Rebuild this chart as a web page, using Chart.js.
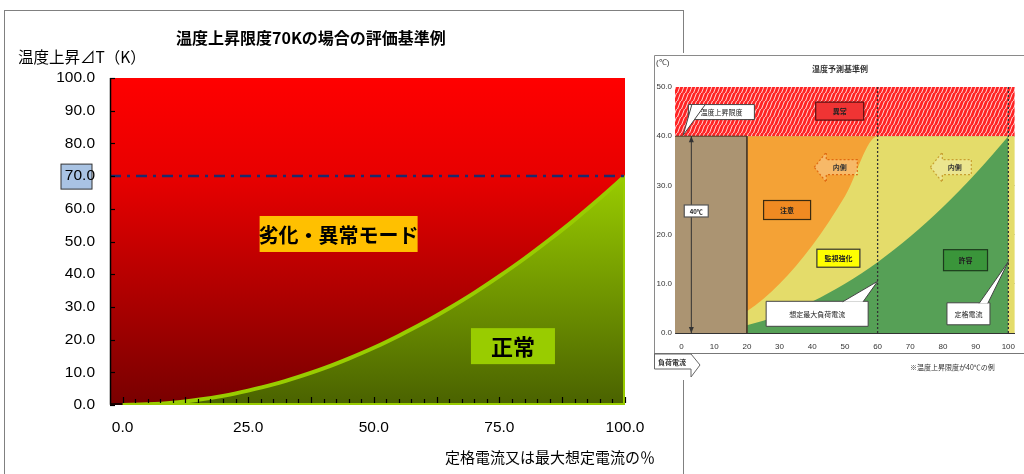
<!DOCTYPE html>
<html>
<head>
<meta charset="utf-8">
<script src="https://cdn.jsdelivr.net/npm/chart.js@4.4.0/dist/chart.umd.min.js"></script>
<style>
  body { margin: 0; background: #fff; width: 1024px; height: 474px; overflow: hidden; position: relative;
         font-family: "Noto Sans CJK JP", sans-serif; }
  #frame { position: absolute; left: 4px; top: 10px; width: 678px; height: 500px; border: 1.5px solid #808080; }
  #main { position: absolute; left: 0; top: 0; width: 684px; height: 474px; }
  #inset { position: absolute; left: 653px; top: 53px; width: 371px; height: 327px; background: #fff; }
  .t { position: absolute; white-space: nowrap; color: #000; line-height: 1; }
</style>
</head>
<body>
<div id="frame"></div>
<div id="main"><canvas id="c1"></canvas></div>
<div class="t" style="left:176px;top:29px;font-size:16px;font-weight:bold;">温度上昇限度70Kの場合の評価基準例</div>
<div class="t" style="left:18px;top:49px;font-size:15.5px;">温度上昇⊿T（K）</div>
<div class="t" style="right:369px;top:449px;font-size:15px;">定格電流又は最大想定電流の％</div>
<div id="inset"><canvas id="c2"></canvas></div>

<script>
// ---- main chart data ----
const currentPct = [0, 5, 10, 15, 20, 25, 30, 35, 40, 45, 50, 55, 60, 65, 70, 75, 80, 85, 90, 95, 100];
const tempRise   = [0, 0.2, 0.7, 1.6, 2.8, 4.4, 6.3, 8.6, 11.2, 14.2, 17.5, 21.2, 25.2, 29.6, 34.3, 39.4, 44.8, 50.6, 56.7, 63.2, 70];
const limitRise = 70;
const redTop = 100;
const xMin = -2.5;
const yTicks = [0, 10, 20, 30, 40, 50, 60, 70, 80, 90, 100];
const xTicks = [0, 25, 50, 75, 100];
const zoneNames = ['劣化・異常モード', '正常'];

// ---- pasted reference picture on the right ----
const insetPct    = [0, 10, 20, 30, 40, 50, 60, 70, 80, 90, 100];
const cautionLine = [0, 1.1, 4.4, 10.0, 17.8, 27.8, 40.0];
const allowLine   = [0, 0.4, 1.6, 3.6, 6.4, 10.0, 14.4, 19.6, 25.6, 32.4, 40.0];
const insetLimit = 40;
const insetTop = 50;
const insetRated = 100;
const insetMaxLoad = 60;
const insetBrownEnd = 20;
const insetYTicks = [0, 10, 20, 30, 40, 50];
const insetXTicks = [0, 10, 20, 30, 40, 50, 60, 70, 80, 90, 100];
const insetNotes = ['温度上昇限度', '異常', '内側', '内側', '40℃', '注意', '監視強化', '許容', '想定最大負荷電流', '定格電流'];

const numFont = '"Liberation Sans",sans-serif';
const jpFont = '"Noto Sans CJK JP",sans-serif';

const pts = (xs, ys) => ys.map((y, i) => ({ x: xs[i], y: y }));

function redFill(c) {
  const a = c.chart.chartArea;
  if (!a) return '#c00000';
  const g = c.chart.ctx.createLinearGradient(0, a.top, 0, a.bottom);
  g.addColorStop(0, '#ff0000');
  g.addColorStop(0.3, '#e80000');
  g.addColorStop(1, '#780000');
  return g;
}
function greenFill(c) {
  const a = c.chart.chartArea;
  if (!a) return '#7a9e00';
  const top = c.chart.scales.y.getPixelForValue(limitRise);
  const g = c.chart.ctx.createLinearGradient(0, top, 0, a.bottom);
  g.addColorStop(0, '#99cc00');
  g.addColorStop(1, '#4a6200');
  return g;
}

function drawTag(ctx, text, cx, cy, w, h, fill, font, stroke) {
  ctx.save();
  ctx.fillStyle = fill;
  ctx.fillRect(cx - w / 2, cy - h / 2, w, h);
  if (stroke) { ctx.strokeStyle = stroke; ctx.lineWidth = 1; ctx.strokeRect(cx - w / 2, cy - h / 2, w, h); }
  ctx.fillStyle = '#000';
  ctx.font = font;
  ctx.textAlign = 'center';
  ctx.textBaseline = 'middle';
  ctx.fillText(text, cx, cy + 1);
  ctx.restore();
}

const mainDecor = {
  id: 'mainDecor',
  beforeDraw(chart) {
    const { ctx, chartArea: a, scales: { y } } = chart;
    const py = y.getPixelForValue(limitRise);
    ctx.save();
    ctx.fillStyle = '#a9c3e3';
    ctx.strokeStyle = '#333';
    ctx.lineWidth = 1;
    ctx.fillRect(a.left - 49, py - 12, 31, 25);
    ctx.strokeRect(a.left - 49, py - 12, 31, 25);
    ctx.restore();
  },
  afterDatasetsDraw(chart) {
    const { ctx, chartArea: a, scales: { x, y } } = chart;
    ctx.save();
    ctx.strokeStyle = '#000';
    ctx.lineWidth = 1.5;
    ctx.beginPath();
    ctx.moveTo(a.left + 0.5, a.top);
    ctx.lineTo(a.left + 0.5, a.bottom - 1);
    ctx.lineTo(x.getPixelForValue(0), a.bottom - 1);
    ctx.stroke();
    ctx.lineWidth = 1.2;
    yTicks.forEach(v => {
      const py = Math.round(y.getPixelForValue(v)) + 0.5;
      ctx.beginPath(); ctx.moveTo(a.left, py); ctx.lineTo(a.left + 5, py); ctx.stroke();
    });
    for (let v = 0; v <= 100; v += 2.5) {
      const px = Math.round(x.getPixelForValue(v)) + 0.5;
      const len = (v % 12.5 === 0) ? 6 : 4;
      ctx.beginPath(); ctx.moveTo(px, a.bottom - 2); ctx.lineTo(px, a.bottom - 2 - len); ctx.stroke();
    }
    ctx.restore();
    drawTag(ctx, zoneNames[0], x.getPixelForValue(43), y.getPixelForValue(52.3), 158, 36, '#ffc000', 'bold 20px ' + jpFont);
    drawTag(ctx, zoneNames[1], x.getPixelForValue(77.7), y.getPixelForValue(18), 84, 36, '#99cc00', 'bold 22px ' + jpFont);
  }
};

new Chart(document.getElementById('c1'), {
  type: 'line',
  data: {
    datasets: [
      { label: '限度', data: [{ x: xMin, y: limitRise }, { x: 100, y: limitRise }], borderColor: '#1c2b6e',
        borderWidth: 2.5, borderDash: [11, 6, 3, 6], pointRadius: 0, fill: false },
      { label: '枠', data: [{ x: 0, y: 0 }, { x: 100, y: 0 }, { x: 100, y: limitRise }], borderColor: '#99cc00',
        borderWidth: 4, pointRadius: 0, fill: false },
      { label: '正常', data: pts(currentPct, tempRise), borderColor: '#99cc00', borderWidth: 4, pointRadius: 0,
        cubicInterpolationMode: 'monotone', fill: 'origin', backgroundColor: greenFill },
      { label: '異常', data: [{ x: xMin, y: redTop }, { x: 100, y: redTop }], borderWidth: 0, pointRadius: 0,
        fill: 'origin', backgroundColor: redFill }
    ]
  },
  options: {
    responsive: true, maintainAspectRatio: false, animation: false,
    layout: { padding: { left: 0, right: 59, top: 78, bottom: 0 } },
    plugins: { legend: { display: false }, tooltip: { enabled: false } },
    scales: {
      x: {
        type: 'linear', min: xMin, max: 100,
        afterBuildTicks: s => { s.ticks = xTicks.map(v => ({ value: v })); },
        afterFit: s => { s.height = 69; },
        grid: { display: false, drawTicks: false }, border: { display: false },
        ticks: { padding: 13, color: '#000', maxRotation: 0, autoSkip: false,
                 font: { family: numFont, size: 15.5 }, callback: v => v.toFixed(1) }
      },
      y: {
        min: 0, max: 100,
        afterBuildTicks: s => { s.ticks = yTicks.map(v => ({ value: v })); },
        afterFit: s => { s.width = 110; },
        grid: { display: false, drawTicks: false }, border: { display: false },
        ticks: { padding: 15, color: '#000', autoSkip: false,
                 font: { family: numFont, size: 15.5 }, callback: v => v.toFixed(1) }
      }
    }
  },
  plugins: [mainDecor]
});

// ---- inset ----
function hatchPattern() {
  const p = document.createElement('canvas');
  p.width = 4; p.height = 8;
  const g = p.getContext('2d');
  g.fillStyle = '#ff2424';
  g.fillRect(0, 0, 4, 8);
  g.strokeStyle = 'rgba(255,235,235,0.9)';
  g.lineWidth = 1;
  g.beginPath(); g.moveTo(0.5, 8); g.lineTo(3.5, 0); g.stroke();
  return g.createPattern(p, 'repeat');
}

function noteBox(ctx, text, cx, cy, w, h, fill, stroke, size, dash) {
  ctx.save();
  ctx.fillStyle = fill;
  ctx.fillRect(cx - w / 2, cy - h / 2, w, h);
  ctx.strokeStyle = stroke;
  ctx.lineWidth = 1.2;
  if (dash) ctx.setLineDash(dash);
  ctx.strokeRect(cx - w / 2, cy - h / 2, w, h);
  ctx.setLineDash([]);
  ctx.fillStyle = '#222';
  ctx.font = 'bold ' + size + 'px ' + jpFont;
  ctx.textAlign = 'center'; ctx.textBaseline = 'middle';
  ctx.fillText(text, cx, cy + 0.5);
  ctx.restore();
}
function leftArrow(ctx, text, cx, cy, w, h, stroke) {
  ctx.save();
  ctx.strokeStyle = stroke; ctx.lineWidth = 1.2; ctx.setLineDash([2, 2]);
  ctx.fillStyle = 'rgba(255,255,255,0.25)';
  const l = cx - w / 2, r = cx + w / 2, t = cy - h / 2, b = cy + h / 2, hw = 12;
  ctx.beginPath();
  ctx.moveTo(l, cy); ctx.lineTo(l + hw, t); ctx.lineTo(l + hw, cy - h / 4); ctx.lineTo(r, cy - h / 4);
  ctx.lineTo(r, cy + h / 4); ctx.lineTo(l + hw, cy + h / 4); ctx.lineTo(l + hw, b); ctx.closePath();
  ctx.fill(); ctx.stroke();
  ctx.setLineDash([]);
  ctx.fillStyle = '#333'; ctx.font = 'bold 7px ' + jpFont; ctx.textAlign = 'center'; ctx.textBaseline = 'middle';
  ctx.fillText(text, cx + 4, cy);
  ctx.restore();
}
function callout(ctx, text, cx, cy, w, h, tx, ty, size) {
  ctx.save();
  ctx.fillStyle = '#fff'; ctx.strokeStyle = '#444'; ctx.lineWidth = 1;
  ctx.beginPath();
  ctx.moveTo(cx - w / 2, cy - h / 2); ctx.lineTo(cx + w / 2, cy - h / 2); ctx.lineTo(cx + w / 2, cy + h / 2);
  ctx.lineTo(cx - w / 2, cy + h / 2); ctx.closePath();
  ctx.fill(); ctx.stroke();
  const side = tx > cx ? 1 : -1;
  ctx.beginPath();
  ctx.moveTo(cx + side * w * 0.25, cy - h / 2 + 0.5);
  ctx.lineTo(tx, ty);
  ctx.lineTo(cx + side * w * 0.45, cy - h / 2 + 0.5);
  ctx.fill(); ctx.stroke();
  ctx.fillStyle = '#222'; ctx.font = size + 'px ' + jpFont; ctx.textAlign = 'center'; ctx.textBaseline = 'middle';
  ctx.fillText(text, cx, cy + 0.5);
  ctx.restore();
}

const insetDecor = {
  id: 'insetDecor',
  afterDraw(chart) {
    const { ctx, chartArea: a, scales: { x, y } } = chart;
    const X = v => x.getPixelForValue(v), Y = v => y.getPixelForValue(v);
    ctx.save();
    // frame of the pasted picture
    ctx.strokeStyle = '#8a8a8a'; ctx.lineWidth = 1;
    ctx.beginPath(); ctx.moveTo(1.5, 300); ctx.lineTo(1.5, 2.5); ctx.lineTo(371, 2.5); ctx.stroke();
    ctx.strokeStyle = '#777';
    ctx.beginPath(); ctx.moveTo(1, 300.5); ctx.lineTo(371, 300.5); ctx.stroke();
    // load-current arrow
    ctx.fillStyle = '#fff'; ctx.strokeStyle = '#666';
    ctx.beginPath();
    ctx.moveTo(1.5, 301); ctx.lineTo(38, 301); ctx.lineTo(47, 312); ctx.lineTo(38, 324); ctx.lineTo(38, 316);
    ctx.lineTo(1.5, 316); ctx.closePath(); ctx.fill(); ctx.stroke();
    ctx.fillStyle = '#333'; ctx.font = 'bold 7px ' + jpFont; ctx.textBaseline = 'middle'; ctx.textAlign = 'left';
    ctx.fillText('負荷電流', 5, 309);
    ctx.font = '7px ' + jpFont;
    ctx.fillText('※温度上昇限度が40℃の例', 257, 314);
    // title and unit
    ctx.font = 'bold 8px ' + jpFont; ctx.textAlign = 'center';
    ctx.fillText('温度予測基準例', 187, 16);
    ctx.font = '8px ' + numFont; ctx.textAlign = 'left';
    ctx.fillText('(℃)', 3, 10);
    // vertical arrow of the 40 degree span
    ctx.strokeStyle = '#333'; ctx.fillStyle = '#333'; ctx.lineWidth = 1;
    const ax = X(3);
    ctx.beginPath(); ctx.moveTo(ax, Y(insetLimit)); ctx.lineTo(ax, Y(0)); ctx.stroke();
    [[Y(insetLimit), 1], [Y(0), -1]].forEach(([py, d]) => {
      ctx.beginPath(); ctx.moveTo(ax, py); ctx.lineTo(ax - 2.5, py + d * 6); ctx.lineTo(ax + 2.5, py + d * 6); ctx.closePath(); ctx.fill();
    });
    ctx.restore();

    callout(ctx, insetNotes[0], X(12.2), Y(44.9), 66, 15, X(0.5), Y(40.2), 7);
    noteBox(ctx, insetNotes[1], X(48.4), Y(45.1), 48, 18, '#f03434', '#5a1010', 7);
    leftArrow(ctx, insetNotes[2], X(47.2), Y(33.7), 43, 30, '#e06a10');
    leftArrow(ctx, insetNotes[3], X(82.4), Y(33.7), 41, 30, '#c8a030');
    noteBox(ctx, insetNotes[4], X(4.5), Y(24.8), 24, 12, '#fff', '#555', 6);
    noteBox(ctx, insetNotes[5], X(32.3), Y(25), 47, 19, '#f08a22', '#3a2a10', 7);
    noteBox(ctx, insetNotes[6], X(48), Y(15.2), 43, 18, '#ffff00', '#333', 7);
    noteBox(ctx, insetNotes[7], X(86.9), Y(14.8), 44, 21, '#3a953a', '#1c3a1c', 7);
    callout(ctx, insetNotes[8], X(41.5), Y(3.9), 102, 25, X(insetMaxLoad), Y(10.5), 7);
    callout(ctx, insetNotes[9], X(87.8), Y(3.9), 43, 22, X(insetRated), Y(14.5), 7);
  }
};

const insetXMin = -2, insetXMax = 102;
new Chart(document.getElementById('c2'), {
  type: 'line',
  data: {
    datasets: [
      { data: [{ x: insetMaxLoad, y: 0 }, { x: insetMaxLoad, y: insetTop }], borderColor: '#333', borderWidth: 1.3,
        borderDash: [2, 2], pointRadius: 0, fill: false },
      { data: [{ x: insetRated, y: 0 }, { x: insetRated, y: insetTop }], borderColor: '#333', borderWidth: 1.3,
        borderDash: [2, 2], pointRadius: 0, fill: false },
      { data: [{ x: insetXMin, y: insetLimit }, { x: insetBrownEnd, y: insetLimit }, { x: insetBrownEnd, y: 0 }],
        borderColor: '#4a3a2a', borderWidth: 1, pointRadius: 0, fill: 'origin', backgroundColor: '#ab9472' },
      { data: pts(insetPct, allowLine), borderWidth: 0, pointRadius: 0, cubicInterpolationMode: 'monotone',
        fill: 'origin', backgroundColor: '#56a056' },
      { data: pts(insetPct, cautionLine).concat([{ x: insetXMax, y: insetLimit }]), borderWidth: 0, pointRadius: 0,
        cubicInterpolationMode: 'monotone', fill: 'origin', backgroundColor: '#e4dc6a' },
      { data: [{ x: insetXMin, y: insetLimit }, { x: insetMaxLoad, y: insetLimit }], borderWidth: 0, pointRadius: 0,
        fill: 'origin', backgroundColor: '#f4a236' },
      { data: [{ x: insetXMin, y: insetTop }, { x: insetXMax, y: insetTop }], borderWidth: 0, pointRadius: 0,
        fill: { value: insetLimit }, backgroundColor: hatchPattern() }
    ]
  },
  options: {
    responsive: true, maintainAspectRatio: false, animation: false,
    layout: { padding: { left: 0, right: 0, top: 34, bottom: 0 } },
    plugins: { legend: { display: false }, tooltip: { enabled: false } },
    scales: {
      x: {
        type: 'linear', min: insetXMin, max: insetXMax,
        afterBuildTicks: s => { s.ticks = insetXTicks.map(v => ({ value: v })); },
        afterFit: s => { s.height = 47; },
        grid: { display: false, drawTicks: false }, border: { display: true, color: '#333' },
        ticks: { padding: 9, color: '#333', maxRotation: 0, autoSkip: false,
                 font: { family: numFont, size: 8 }, callback: v => String(v) }
      },
      y: {
        min: 0, max: insetTop, z: 1,
        afterBuildTicks: s => { s.ticks = insetYTicks.map(v => ({ value: v })); },
        afterFit: s => { s.width = 22; },
        grid: { drawTicks: false, color: c => (c.tick.value > 0 && c.tick.value < insetTop) ? 'rgba(60,60,60,0.45)' : 'transparent' },
        border: { display: true, color: '#444' },
        ticks: { padding: 3, color: '#333', autoSkip: false,
                 font: { family: numFont, size: 8 }, callback: v => v.toFixed(1) }
      }
    }
  },
  plugins: [insetDecor]
});
</script>
</body>
</html>
